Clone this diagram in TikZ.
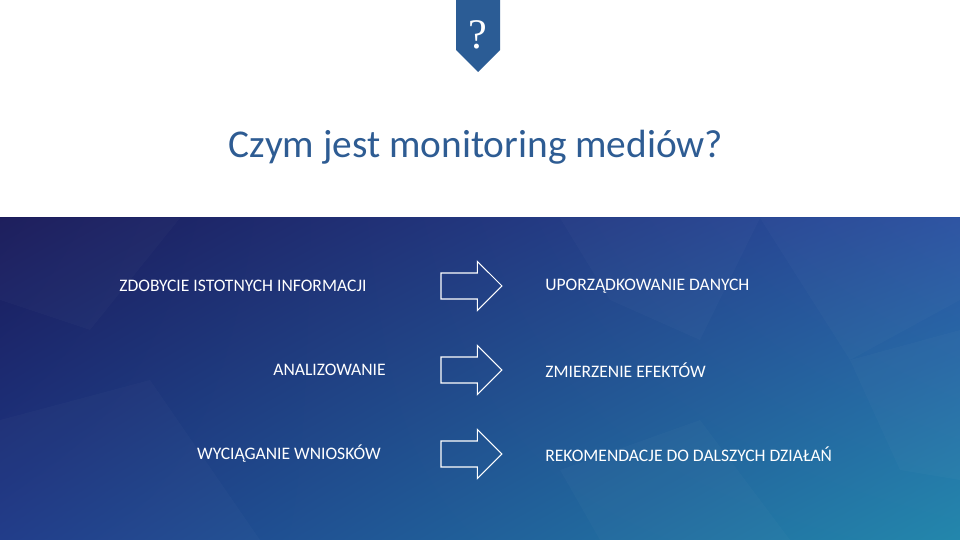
\documentclass[tikz,border=0pt]{standalone}
\usepackage{fontspec}
\setmainfont{Carlito}
\usetikzlibrary{positioning,shapes.arrows,shadings,calc}
\definecolor{bannerblue}{HTML}{2B5C95}
\definecolor{titleblue}{HTML}{2E5C93}
\definecolor{deepnavy}{HTML}{1A1B5A}
\definecolor{midblue}{HTML}{2B52A2}
\definecolor{lowblue}{HTML}{1E3A88}
\definecolor{seablue}{HTML}{2387AC}
\tikzset{
  facet/.style={fill=white,opacity=0.018,draw=none},
  steptext/.style={text=white,font=\fontsize{10}{12}\selectfont,inner sep=0pt},
  flowarrow/.style={single arrow,draw=white,line width=0.6pt,fill=none,
    minimum height=1.22cm,inner xsep=0pt,inner ysep=0.25cm,
    single arrow head extend=0.23cm,outer sep=0pt,anchor=tail},
}

\begin{document}
\begin{tikzpicture}[x=0.02cm,y=-0.02cm]
\useasboundingbox (0,0) rectangle (960,540);
\fill[white] (0,0) rectangle (960,540);

% background band
\shade[upper left=deepnavy,upper right=midblue,lower left=lowblue,lower right=seablue]
  (0,218) rectangle (960,540);
\fill[facet] (0,218) -- (180,218) -- (90,330) -- (0,300) -- cycle;
\fill[facet] (560,218) -- (760,218) -- (700,340) -- (610,300) -- cycle;
\fill[facet] (760,218) -- (960,218) -- (960,300) -- (850,360) -- cycle;
\fill[facet] (0,420) -- (150,380) -- (260,540) -- (0,540) -- cycle;
\fill[facet] (560,470) -- (700,420) -- (790,540) -- (600,540) -- cycle;
\fill[facet] (850,360) -- (960,330) -- (960,480) -- (900,470) -- cycle;

% banner
\fill[bannerblue] (456,0) -- (500,0) -- (500,50) -- (478,72) -- (456,50) -- cycle;
\node[text=white,font=\fontspec{Liberation Serif}\fontsize{24}{24}\selectfont] (qmark) at (478,35) {?};

\node[text=titleblue,font=\fontsize{22.4}{26}\selectfont] (title) at (476,147) {Czym jest monitoring mediów?};

\node[steptext,anchor=west] (gain) at (119,286) {ZDOBYCIE ISTOTNYCH INFORMACJI};
\node[steptext,anchor=east] (anal) at (386,370) {ANALIZOWANIE};
\node[steptext,anchor=east] (conclude) at (381,454) {WYCIĄGANIE WNIOSKÓW};

\node[flowarrow] (arA) at (441,286) {};
\node[flowarrow] (arB) at (441,370) {};
\node[flowarrow] (arC) at (441,454) {};

\node[steptext,anchor=west] (order) at (545,286) {UPORZĄDKOWANIE DANYCH};
\node[steptext,anchor=west] (measure) at (545,370) {ZMIERZENIE EFEKTÓW};
\node[steptext,anchor=west] (advice) at (545,454) {REKOMENDACJE DO DALSZYCH DZIAŁAŃ};
\end{tikzpicture}
\end{document}
